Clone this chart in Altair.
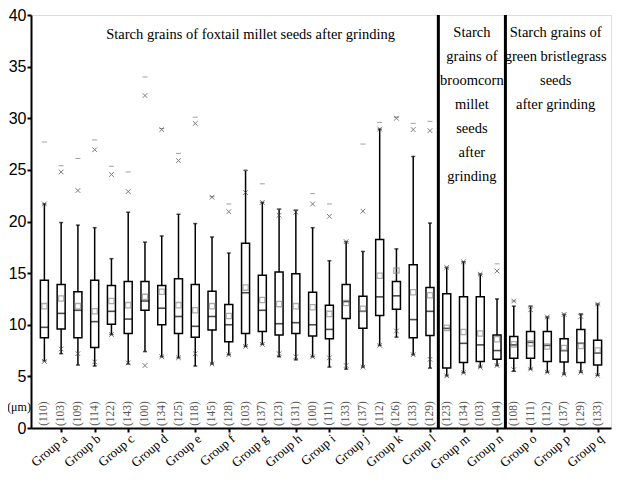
import altair as alt
import pandas as pd

letters = "abcdefghijklmnopq"
group_sizes = [24, 4, 6]  # boxes per panel (foxtail, broomcorn, bristlegrass)

counts = [110, 103, 109, 114, 122, 143, 100, 134, 125, 118, 145, 128, 103, 137, 123, 131, 100,
          111, 133, 137, 112, 126, 133, 129, 123, 134, 103, 104, 108, 111, 112, 137, 129, 133]
whisk_lo = [6.5, 7.2, 6.1, 6.0, 9.05, 6.2, 7.4, 6.9, 6.8, 6.0, 6.2, 7.1, 7.9, 8.1, 6.9, 6.6, 6.9,
            5.9, 5.7, 5.9, 8.0, 8.8, 7.1, 5.8, 5.05, 5.35, 5.9, 6.05, 5.5, 5.7, 5.4, 5.2, 5.4, 5.1]
q1 = [8.75, 9.6, 8.75, 7.8, 10.05, 9.15, 11.4, 10.0, 9.15, 8.8, 9.5, 8.35, 9.15, 9.35, 9.0, 9.15, 8.9,
      8.65, 10.6, 9.65, 10.9, 11.5, 8.75, 8.95, 5.8, 6.35, 6.45, 6.65, 6.75, 6.75, 6.45, 6.4, 6.35, 6.1]
median = [9.75, 11.1, 11.4, 10.3, 11.3, 10.55, 12.3, 11.6, 10.8, 9.85, 10.8, 10.0, 13.1, 11.4, 10.1, 10.2, 10.0,
          9.55, 12.25, 11.3, 12.7, 12.8, 10.5, 11.3, 9.65, 8.2, 8.05, 7.5, 8.05, 8.3, 8.0, 7.5, 8.2, 7.25]
q3 = [14.3, 13.9, 13.2, 14.3, 13.8, 14.2, 14.2, 13.8, 14.45, 13.9, 13.25, 11.95, 17.9, 14.8, 15.1, 14.95, 13.15,
      11.9, 13.9, 12.75, 18.25, 14.2, 15.8, 13.6, 13.0, 12.7, 12.7, 9.0, 8.85, 9.35, 9.35, 8.65, 9.55, 8.5]
whisk_hi = [21.7, 19.9, 19.65, 19.4, 16.4, 20.9, 18.0, 18.6, 20.7, 19.8, 18.5, 16.95, 24.95, 21.85, 21.2, 21.1, 19.4,
            16.2, 18.05, 17.1, 28.95, 17.35, 26.3, 19.85, 15.55, 16.1, 14.9, 12.5, 11.8, 11.8, 10.75, 11.0, 11.05, 12.0]
mean = [11.8, 12.55, 11.8, 11.3, 12.3, 11.9, 12.7, 13.2, 11.9, 11.4, 11.8, 10.85, 13.6, 12.4, 12.0, 11.8, 11.7,
        11.05, 12.1, 11.55, 14.75, 15.25, 13.15, 12.85, 9.7, 9.3, 9.15, 8.6, 8.1, 8.2, 7.9, 7.75, 7.95, 7.5]
pct_lo = [6.45, 7.65, 7.2, 6.4, 9.05, 6.3, 6.05, 6.9, 6.8, 7.2, 6.2, 7.1, 7.9, 8.1, 7.2, 6.9, 6.9,
          6.8, 6.05, 5.9, 8.0, 9.4, 7.1, 6.65, 5.05, 5.35, 5.9, 6.05, 5.65, 5.7, 5.4, 5.2, 5.4, 5.1]
pct_hi = [21.7, 24.8, 23.0, 26.95, 24.55, 22.9, 32.2, 28.9, 25.9, 29.5, 22.35, 20.95, 22.8, 21.85, 20.6, 20.9, 21.7,
          20.5, 18.05, 21.0, 28.95, 30.0, 28.9, 28.8, 15.55, 16.1, 14.9, 15.2, 12.3, 11.45, 10.75, 11.0, 10.8, 12.0]
max_val = [27.7, 25.4, 26.1, 27.9, 25.35, 24.8, 34.0, 29.0, 26.6, 30.1, 22.4, 21.7, 24.95, 23.65, 21.2, 21.1, 22.7,
           21.7, 18.05, 27.5, 29.6, 30.1, 29.5, 29.7, 15.55, 16.1, 14.9, 15.9, 12.3, 11.8, 10.75, 11.0, 11.05, 12.0]

df = pd.DataFrame({
    "pos": list(range(1, len(counts) + 1)),
    "n": counts, "wlo": whisk_lo, "q1": q1, "med": median, "q3": q3,
    "whi": whisk_hi, "mean": mean, "plo": pct_lo, "phi": pct_hi, "mx": max_val,
})

seps = []
acc = 0
for s in group_sizes[:-1]:
    acc += s
    seps.append(acc + 0.5)
sep_df = pd.DataFrame({"sep": seps})

SERIF = "Liberation Serif"
SANS = "Liberation Sans"

xscale = alt.Scale(domain=[0.5, len(counts) + 0.5], nice=False, zero=False)
yscale = alt.Scale(domain=[0, 40], nice=False)

xaxis = alt.Axis(values=list(range(2, len(counts) + 1, 2)),
                 labelExpr="'Group ' + substring('" + letters + "', datum.value/2 - 1, datum.value/2)",
                 grid=False, labelAngle=-40, labelFont=SERIF, labelFontSize=13, labelColor="black",
                 labelOverlap=False, labelBound=False,
                 tickSize=4, tickWidth=2, tickColor="black", domainWidth=2, domainColor="black",
                 labelPadding=0, title=None)
yaxis = alt.Axis(values=list(range(0, 41, 5)), grid=False, labelFont=SANS, labelFontSize=16,
                 labelColor="black", tickSize=4, tickWidth=2, tickColor="black",
                 domainWidth=2, domainColor="black", labelPadding=1, title=None)

X = alt.X("pos:Q", scale=xscale, axis=xaxis, title=None)


def Y(field):
    return alt.Y(field, scale=yscale, axis=yaxis, title=None)


base = alt.Chart(df)

whisk = base.mark_rule(color="black", strokeWidth=1.5).encode(x=X, y=Y("wlo:Q"), y2="whi:Q")
box = base.mark_bar(size=8, fill="white", stroke="black", strokeWidth=1.5, orient="vertical").encode(
    x=X, y=Y("q1:Q"), y2="q3:Q")
med = base.mark_tick(orient="horizontal", size=8, thickness=1.6, color="black").encode(x=X, y=Y("med:Q"))
cap_lo = base.mark_tick(orient="horizontal", size=4, thickness=1.5, color="black").encode(x=X, y=Y("wlo:Q"))
cap_hi = base.mark_tick(orient="horizontal", size=4, thickness=1.5, color="black").encode(x=X, y=Y("whi:Q"))
mean_pt = base.mark_point(shape="square", size=28, filled=False, stroke="#8a8a8a", strokeWidth=1.3).encode(
    x=X, y=Y("mean:Q"))
xshape = "M-1,-1L1,1M1,-1L-1,1"
plo = base.mark_point(shape=xshape, size=22, filled=False, stroke="#444", strokeWidth=1).encode(x=X, y=Y("plo:Q"))
phi = base.mark_point(shape=xshape, size=22, filled=False, stroke="#444", strokeWidth=1).encode(x=X, y=Y("phi:Q"))
mx = base.mark_tick(orient="horizontal", size=5, thickness=1, color="#777").encode(x=X, y=Y("mx:Q"))

cnt = base.transform_calculate(label="'(' + datum.n + ')'").mark_text(
    angle=270, font=SERIF, fontSize=11.5, color="#555", align="center", baseline="middle").encode(
    x=X, y=alt.Y(datum=1.4, scale=yscale, axis=yaxis, title=None), text="label:N")

sep = alt.Chart(sep_df).mark_rule(color="black", strokeWidth=3).encode(x=alt.X("sep:Q", scale=xscale, axis=xaxis))

unit = alt.Chart(pd.DataFrame({"t": ["(\u03bcm)"]})).mark_text(
    font=SERIF, fontSize=12, color="black", align="center", baseline="middle").encode(
    x=alt.value(-12), y=alt.Y(datum=2.0, scale=yscale, axis=yaxis, title=None), text="t:N")

t1 = alt.Chart(pd.DataFrame({"t": ["Starch grains of foxtail millet seeds after grinding"]})).mark_text(
    font=SERIF, fontSize=14.5, color="black", align="center", baseline="middle").encode(
    x=alt.X(datum=13.3, scale=xscale, axis=xaxis), y=alt.value(20), text="t:N")
t2 = alt.Chart(pd.DataFrame({"t": [["Starch", "grains  of", "broomcorn", "millet", "seeds", "after", "grinding"]]})).mark_text(
    font=SERIF, fontSize=14.5, color="black", align="center", baseline="middle", lineHeight=24).encode(
    x=alt.X(datum=26.5, scale=xscale, axis=xaxis), y=alt.value(18), text="t")
t3 = alt.Chart(pd.DataFrame({"t": [["Starch grains of", "green bristlegrass", "seeds", "after grinding"]]})).mark_text(
    font=SERIF, fontSize=14.5, color="black", align="center", baseline="middle", lineHeight=24).encode(
    x=alt.X(datum=31.5, scale=xscale, axis=xaxis), y=alt.value(18), text="t")

chart = alt.layer(sep, whisk, cap_lo, cap_hi, box, med, mx, plo, phi, mean_pt, cnt, unit, t1, t2, t3).properties(
    width=580, height=413, autosize="none",
    padding={"left": 23, "top": 7, "right": 1, "bottom": 44},
).configure_view(stroke="black", strokeWidth=2).configure(background="white")

chart.save("out.html", embed_options={"renderer": "svg", "actions": False})
